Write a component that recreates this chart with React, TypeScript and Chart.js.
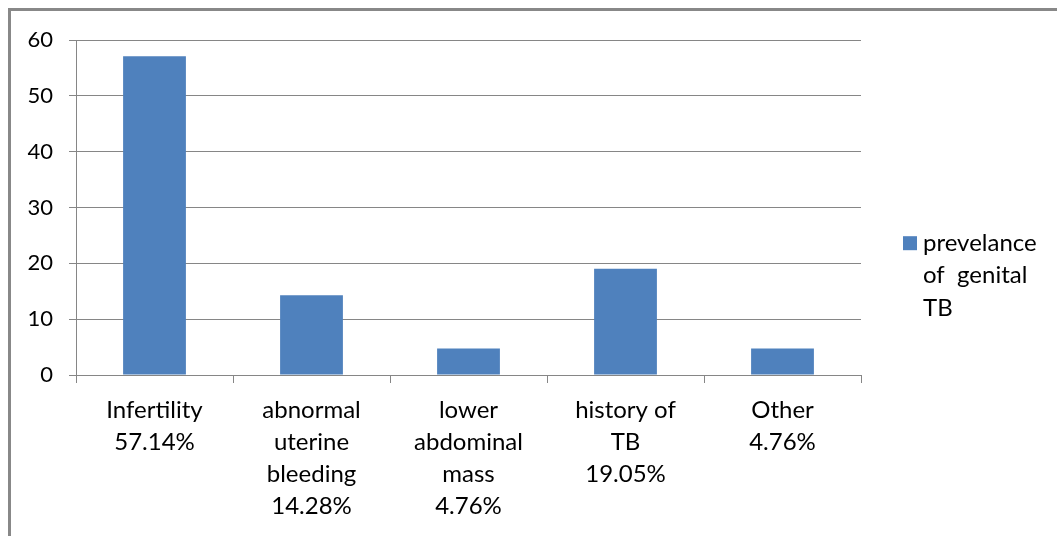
import React, { useEffect, useRef } from "react";
import { Chart, registerables } from "chart.js";

Chart.register(...registerables);

const categories: string[][] = [
  ["Infertility", "57.14%"],
  ["abnormal", "uterine", "bleeding", "14.28%"],
  ["lower", "abdominal", "mass", "4.76%"],
  ["history of", "TB", "19.05%"],
  ["Other", "4.76%"],
];
const values: number[] = [57.14, 14.28, 4.76, 19.05, 4.76];
const seriesNameLines: string[] = ["prevelance", "of  genital", "TB"];
const yMin = 0;
const yMax = 60;
const yStep = 10;

const BAR_COLOR = "#4F81BD";
const GRID_COLOR = "#868686";
const FONT_FAMILY = "Lato, 'Open Sans', sans-serif";
const TICK_FONT_SIZE = 22;
const LABEL_FONT_SIZE = 24;

const legendPlugin = {
  id: "customLegend",
  afterDraw(chart: any) {
    const ctx = chart.ctx as CanvasRenderingContext2D;
    const area = chart.chartArea;
    const sqX = area.right + 42;
    const sqY = area.top + 196;
    ctx.save();
    ctx.fillStyle = BAR_COLOR;
    ctx.fillRect(sqX, sqY, 14, 14);
    ctx.fillStyle = "#000";
    ctx.font = `${LABEL_FONT_SIZE}px ${FONT_FAMILY}`;
    ctx.textBaseline = "middle";
    ctx.textAlign = "left";
    seriesNameLines.forEach((t, i) => {
      ctx.fillText(t, sqX + 20, sqY + 7 + i * 32.5);
    });
    ctx.restore();
  },
};

export default function App() {
  const ref = useRef<HTMLCanvasElement | null>(null);

  useEffect(() => {
    if (!ref.current) return;
    const chart = new Chart(ref.current, {
      type: "bar",
      data: {
        labels: categories,
        datasets: [
          {
            label: seriesNameLines.join(" "),
            data: values,
            backgroundColor: BAR_COLOR,
            borderWidth: 0,
            barPercentage: 0.4,
            categoryPercentage: 1,
          },
        ],
      },
      options: {
        responsive: false,
        animation: false,
        layout: { padding: { top: 26, right: 196, bottom: 0, left: 0 } },
        plugins: {
          legend: { display: false },
          tooltip: { enabled: false },
        },
        scales: {
          x: {
            grid: {
              display: true,
              drawOnChartArea: false,
              drawTicks: true,
              tickLength: 8,
              color: GRID_COLOR,
              offset: true,
            },
            border: { display: true, color: GRID_COLOR, width: 1 },
            ticks: {
              color: "#000",
              padding: 11,
              maxRotation: 0,
              autoSkip: false,
              font: { family: FONT_FAMILY, size: LABEL_FONT_SIZE, lineHeight: "32px" as any },
            },
            afterFit: (scale: any) => {
              scale.height = 161;
            },
          },
          y: {
            min: yMin,
            max: yMax,
            grid: {
              color: GRID_COLOR,
              tickLength: 7,
              drawTicks: true,
            },
            border: { display: true, color: GRID_COLOR, width: 1 },
            ticks: {
              stepSize: yStep,
              color: "#000",
              padding: 16,
              font: { family: FONT_FAMILY, size: TICK_FONT_SIZE },
            },
            afterFit: (scale: any) => {
              scale.width = 65;
            },
          },
        },
      },
      plugins: [legendPlugin],
    });
    return () => chart.destroy();
  }, []);

  return (
    <div
      style={{
        position: "fixed",
        left: 8,
        top: 8,
        width: 1049,
        height: 528,
        boxSizing: "border-box",
        borderLeft: "3px solid #888",
        borderTop: "3px solid #888",
        background: "#fff",
      }}
    >
      <canvas ref={ref} width={1046} height={525} style={{ display: "block" }} />
    </div>
  );
}
